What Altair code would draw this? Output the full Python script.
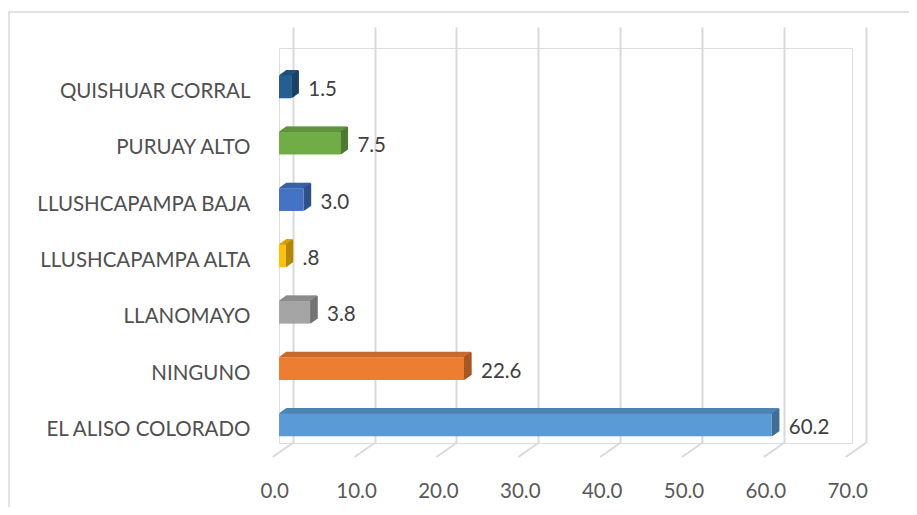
import altair as alt
import pandas as pd

# ---- data ----
categories = ["QUISHUAR CORRAL", "PURUAY ALTO", "LLUSHCAPAMPA BAJA",
              "LLUSHCAPAMPA ALTA", "LLANOMAYO", "NINGUNO", "EL ALISO COLORADO"]
values = [1.5, 7.5, 3.0, 0.8, 3.8, 22.6, 60.2]
value_labels = [f"{v:.1f}".lstrip("0") if v < 1 else f"{v:.1f}" for v in values]
x_ticks = [0, 10, 20, 30, 40, 50, 60, 70]

# ---- styles ----
front_colors = ["#255E91", "#70AD47", "#4472C4", "#FFC000", "#A5A5A5", "#ED7D31", "#5B9BD5"]
top_colors = ["#1F507B", "#5F933C", "#3A61A7", "#D9A300", "#8C8C8C", "#C96A2A", "#4D84B5"]
side_colors = ["#1A4266", "#4E7932", "#305089", "#B38600", "#747474", "#A65822", "#406D95"]

FONT = "Lato"
W, H = 573, 395
DX, DY = 7, -5          # bar depth
STEPS = 12

df = pd.DataFrame({"cat": categories, "v": values, "label": value_labels})
ticks_df = pd.DataFrame({"t": x_ticks})

xs = alt.Scale(domain=[0, 70], nice=False, zero=True)
ys = alt.Scale(domain=categories, range=[0, 416], paddingInner=0.599, paddingOuter=0.4915)
BW = 416 / (7 - 0.599 + 2 * 0.4915) * (1 - 0.599)

x_axis = alt.Axis(
    values=x_ticks, format=".1f", grid=True, gridColor="#d9d9d9", gridWidth=2,
    tickOffset=13.7, labelOffset=-18.5, domain=False, ticks=False,
    labelPadding=38, labelFontSize=20.5, labelFont=FONT, labelColor="#595959",
    labelFlush=False, labelOverlap=False, labelBound=False, title=None)
y_axis = alt.Axis(
    domain=False, ticks=False, labelPadding=29, labelOffset=5,
    labelFontSize=20.5, labelFont=FONT, labelColor="#505050", labelLimit=0,
    title=None)


def X(field):
    return alt.X(field, scale=xs, axis=x_axis)


y_enc = alt.Y("cat:N", scale=ys, sort=categories, axis=y_axis)

base = alt.Chart(df)
layers = []

# chart-area border
layers.append(
    alt.Chart(pd.DataFrame({"a": [0]})).mark_rect(
        fillOpacity=0, stroke="#d9d9d9", strokeWidth=1.5
    ).encode(x=alt.value(-270), x2=alt.value(800), y=alt.value(-36), y2=alt.value(700))
)

# slanted floor segments of the gridlines
layers.append(
    alt.Chart(ticks_df).mark_rule(
        color="#d9d9d9", strokeWidth=2, xOffset=13.7, x2Offset=-6.3
    ).encode(x=X("t:Q"), x2="t:Q", y=alt.value(H), y2=alt.value(H + 14))
)

# 3D faces: top
for i in range(1, STEPS + 1):
    s = i / STEPS
    layers.append(
        base.mark_rule(strokeWidth=1.3, xOffset=DX * s, x2Offset=DX * s,
                       yOffset=-BW / 2 + DY * s).encode(
            x=X("z:Q"), x2="v:Q", y=y_enc,
            stroke=alt.Stroke("cat:N", scale=alt.Scale(domain=categories, range=top_colors), legend=None)
        ).transform_calculate(z="0")
    )
# 3D faces: side
for i in range(1, STEPS + 1):
    s = i / STEPS
    layers.append(
        base.mark_tick(thickness=1.3, size=BW, xOffset=DX * s, yOffset=DY * s, opacity=1).encode(
            x=X("v:Q"), y=y_enc,
            fill=alt.Fill("cat:N", scale=alt.Scale(domain=categories, range=side_colors), legend=None)
        )
    )

# front faces
layers.append(
    base.mark_bar(size=BW).encode(
        x=X("v:Q"), y=y_enc,
        color=alt.Color("cat:N", scale=alt.Scale(domain=categories, range=front_colors), legend=None)
    )
)

# value labels
layers.append(
    base.mark_text(align="left", baseline="middle", dx=17, dy=3,
                   fontSize=20.5, font=FONT, color="#404040").encode(
        x=X("v:Q"), y=y_enc, text="label:N")
)

chart = alt.layer(*layers).properties(
    width=W, height=H,
    autosize=alt.AutoSizeParams(type="none"),
    padding={"left": 271, "top": 40, "right": 57, "bottom": 64},
).configure_view(strokeOpacity=0, strokeWidth=0).configure(background="white")

chart.save("out.html", embed_options={"renderer": "svg", "actions": False})
